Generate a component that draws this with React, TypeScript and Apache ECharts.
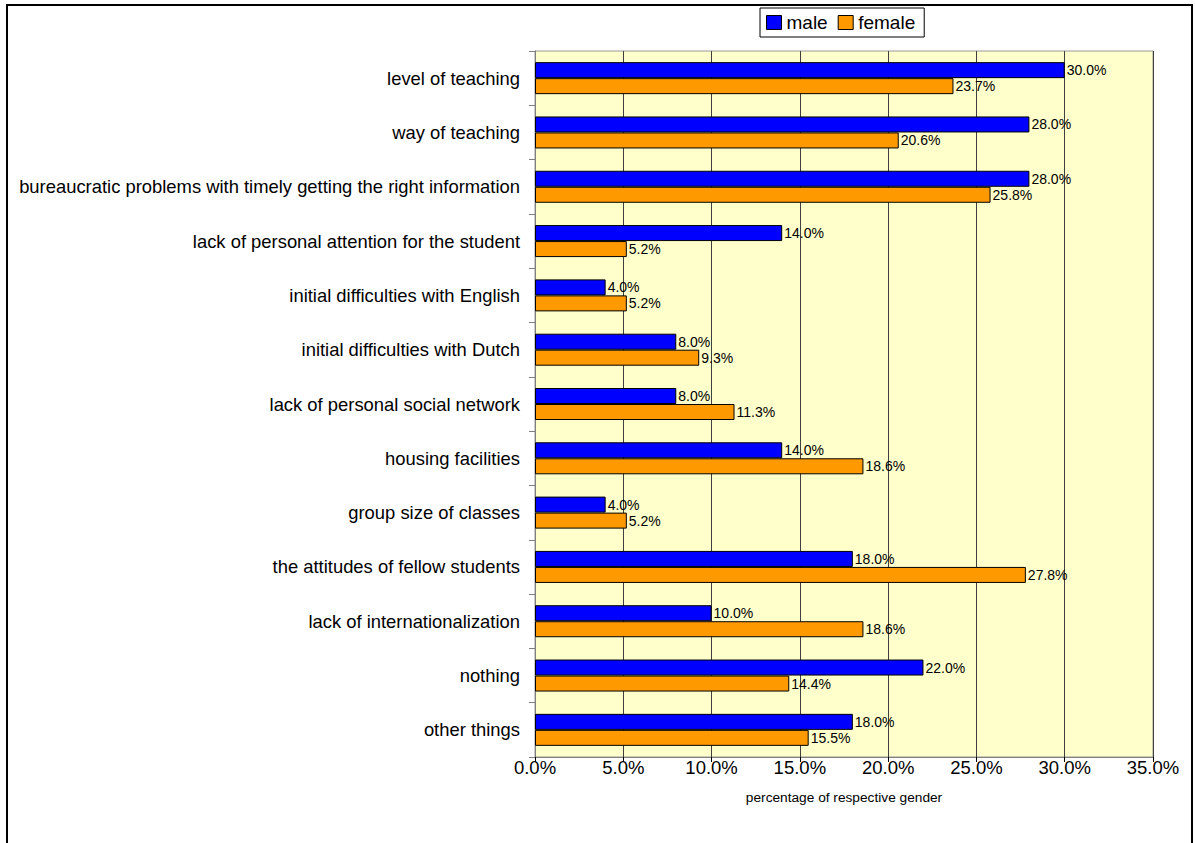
import React, { useEffect, useRef } from "react";
import * as echarts from "echarts";

const categories = [
  "level of teaching",
  "way of teaching",
  "bureaucratic problems with timely getting the right information",
  "lack of personal attention for the student",
  "initial difficulties with English",
  "initial difficulties with Dutch",
  "lack of personal social network",
  "housing facilities",
  "group size of classes",
  "the attitudes of fellow students",
  "lack of internationalization",
  "nothing",
  "other things",
];
const maleValues = [30.0, 28.0, 28.0, 14.0, 4.0, 8.0, 8.0, 14.0, 4.0, 18.0, 10.0, 22.0, 18.0];
const femaleValues = [23.7, 20.6, 25.8, 5.2, 5.2, 9.3, 11.3, 18.6, 5.2, 27.8, 18.6, 14.4, 15.5];
const seriesNames = ["male", "female"];
const xAxisTitle = "percentage of respective gender";

const FONT = "Liberation Sans, Arial, sans-serif";

export default function App() {
  const ref = useRef<HTMLDivElement>(null);
  useEffect(() => {
    if (!ref.current) return;
    const chart = echarts.init(ref.current, undefined, { renderer: "svg" });
    const pct = (v: number) => v.toFixed(1) + "%";
    chart.setOption({
      animation: false,
      textStyle: { fontFamily: FONT },
      graphic: [
        {
          type: "rect",
          shape: { x: 7, y: 5, width: 1185, height: 850 },
          style: { fill: "none", stroke: "#000", lineWidth: 2 },
          z: 0,
        },
      ],
      legend: {
        data: seriesNames,
        top: 8,
        left: 760,
        icon: "rect",
        itemWidth: 15,
        itemHeight: 14,
        itemGap: 10,
        padding: [5, 9, 5, 6],
        borderColor: "#000",
        borderWidth: 1,
        itemStyle: { borderColor: "#000", borderWidth: 1 },
        textStyle: { fontSize: 19, color: "#000", fontFamily: FONT },
      },
      grid: {
        left: 535,
        top: 51,
        right: 42,
        bottom: 86,
        show: true,
        backgroundColor: "#FFFFCC",
        borderColor: "#999",
        borderWidth: 1,
        containLabel: false,
      },
      xAxis: {
        type: "value",
        min: 0,
        max: 35,
        interval: 5,
        name: xAxisTitle,
        nameLocation: "middle",
        nameGap: 33,
        nameTextStyle: { fontSize: 13.7, color: "#000", fontFamily: FONT },
        axisLine: { show: true, lineStyle: { color: "#808080" } },
        axisTick: { show: true, length: 5, lineStyle: { color: "#000" } },
        axisLabel: { formatter: pct, fontSize: 18.5, color: "#000", margin: 1, fontFamily: FONT },
        splitLine: { show: true, lineStyle: { color: "#404040", width: 1 } },
      },
      yAxis: {
        type: "category",
        data: categories,
        inverse: true,
        axisLine: { show: true, lineStyle: { color: "#808080" } },
        axisTick: { show: true, length: 6, lineStyle: { color: "#808080" } },
        axisLabel: { fontSize: 18.4, color: "#000", margin: 15, fontFamily: FONT, padding: [6, 0, 0, 0] },
        splitLine: { show: false },
      },
      series: [
        {
          name: seriesNames[0],
          type: "bar",
          data: maleValues,
          barWidth: 16,
          barGap: "0%",
          itemStyle: { color: "#0000FF", borderColor: "#000", borderWidth: 1 },
          label: { show: true, position: "right", distance: 2, formatter: (p: any) => pct(p.value), fontSize: 14, color: "#000", fontFamily: FONT },
        },
        {
          name: seriesNames[1],
          type: "bar",
          data: femaleValues,
          barWidth: 16,
          barGap: "0%",
          itemStyle: { color: "#FF9900", borderColor: "#000", borderWidth: 1 },
          label: { show: true, position: "right", distance: 2, formatter: (p: any) => pct(p.value), fontSize: 14, color: "#000", fontFamily: FONT },
        },
      ],
    });
    return () => chart.dispose();
  }, []);
  return (
    <div
      ref={ref}
      style={{ position: "fixed", left: 0, top: 0, width: 1195, height: 843, background: "#fff" }}
    />
  );
}
